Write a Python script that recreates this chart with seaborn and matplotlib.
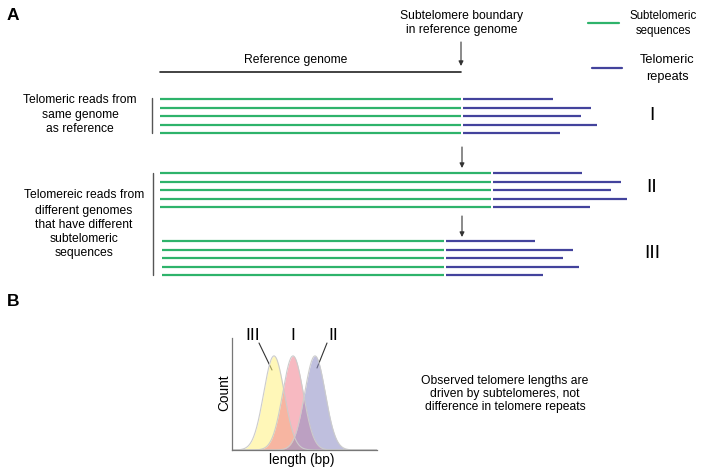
import numpy as np
import seaborn as sns
import matplotlib.pyplot as plt

sns.set_style('white')
plt.rcParams['font.family'] = ['Liberation Sans', 'DejaVu Sans']
plt.rcParams['text.color'] = 'black'

# read layout data (pixel units of the schematic)
read_start = [160, 160, 162]
subtelomere_ends = [461, 491, 444]
tel_ends_I = [553, 591, 581, 597, 560]
tel_ends_II = [582, 621, 611, 627, 590]
tel_ends_III = [535, 573, 563, 579, 543]
group_top = [99, 173, 241]
group_names = ['I', 'II', 'III']
group_label_y = [116, 188, 254]

# length distributions in panel B
dist_names = ['III', 'I', 'II']
dist_means = [274, 293, 315]
dist_sd = 10.3
dist_colors = ['#fff27e', '#f2808f', '#8c8cc4']

green = '#2eb36b'
blue = '#43439c'
fs = 8.7

fig = plt.figure(figsize=(7.05, 4.7), dpi=100)
ax = fig.add_axes([0, 0, 1, 1])
ax.set_xlim(0, 705)
ax.set_ylim(470, 0)
ax.axis('off')

# panel letters
ax.text(13, 16, 'A', fontsize=12.5, fontweight='bold', ha='center', va='center')
ax.text(13, 302, 'B', fontsize=12.5, fontweight='bold', ha='center', va='center')

# reference genome + boundary
ax.plot([160, 461], [72, 72], color='#222222', lw=1.2)
ax.text(296, 60, 'Reference genome', fontsize=fs, ha='center', va='center')
ax.text(462, 16, 'Subtelomere boundary', fontsize=fs, ha='center', va='center')
ax.text(462, 30, 'in reference genome', fontsize=fs, ha='center', va='center')

arrow_kw = dict(arrowstyle='-|>', color='#333333', lw=0.8, mutation_scale=7,
                shrinkA=0, shrinkB=0)
ax.annotate('', xy=(461, 66), xytext=(461, 42), arrowprops=arrow_kw)
ax.annotate('', xy=(462, 168), xytext=(462, 147), arrowprops=arrow_kw)
ax.annotate('', xy=(462, 237), xytext=(462, 216), arrowprops=arrow_kw)

# legend
ax.plot([588, 619], [23, 23], color=green, lw=1.6)
ax.text(663, 16, 'Subtelomeric', fontsize=8.3, ha='center', va='center')
ax.text(663, 31, 'sequences', fontsize=8.3, ha='center', va='center')
ax.plot([592, 622], [68, 68], color=blue, lw=1.6)
ax.text(667, 60, 'Telomeric', fontsize=9.2, ha='center', va='center')
ax.text(667, 77, 'repeats', fontsize=9.2, ha='center', va='center')

# reads
for start, sub_end, tel_ends, top, name, ly in zip(read_start, subtelomere_ends,
                                                 [tel_ends_I, tel_ends_II, tel_ends_III],
                                                 group_top, group_names, group_label_y):
    for k, tel_end in enumerate(tel_ends):
        y = top + k * 8.5
        ax.plot([start, sub_end], [y, y], color=green, lw=1.6, solid_capstyle='butt')
        ax.plot([sub_end + 1.5, tel_end], [y, y], color=blue, lw=1.6, solid_capstyle='butt')
    ax.text(652, ly, name, fontsize=14, ha='center', va='center')

# brackets and left labels
ax.plot([152, 152], [98, 133], color='#555555', lw=1.0)
ax.plot([153, 153], [173, 275], color='#555555', lw=1.0)
for y, line in zip([100, 115, 129], ['Telomeric reads from', 'same genome', 'as reference']):
    ax.text(80, y, line, fontsize=fs, ha='center', va='center')
for y, line in zip([195, 211, 225, 239, 253],
                   ['Telomereic reads from', 'different genomes', 'that have different',
                    'subtelomeric', 'sequences']):
    ax.text(84, y, line, fontsize=fs, ha='center', va='center')

# panel B distributions
bx = fig.add_axes([232 / 705, 20 / 470, 145 / 705, 112 / 470])
x = np.linspace(232, 377, 400)
for mean, col in zip(dist_means, dist_colors):
    y = np.exp(-0.5 * ((x - mean) / dist_sd) ** 2)
    bx.fill_between(x, 0, y, color=col, alpha=0.55, lw=0)
    sns.lineplot(x=x, y=y, ax=bx, color='#cccccc', lw=0.8)
bx.set_xlim(232, 377)
bx.set_ylim(0, 1.19)
bx.set_xticks([])
bx.set_yticks([])
for side in ['top', 'right']:
    bx.spines[side].set_visible(False)
for side in ['left', 'bottom']:
    bx.spines[side].set_color('#777777')
    bx.spines[side].set_linewidth(0.9)
bx.set_xlabel('')
bx.set_ylabel('')
bx.patch.set_alpha(0)

ax.text(224, 393, 'Count', fontsize=9.8, rotation=90, ha='center', va='center')
ax.text(302, 460, 'length (bp)', fontsize=9.8, ha='center', va='center')
for name, xl in zip(dist_names, [253, 293, 333]):
    ax.text(xl, 335, name, fontsize=12.5, ha='center', va='center')
ax.plot([259, 272], [343, 370], color='#333333', lw=0.8)
ax.plot([327, 317], [343, 368], color='#333333', lw=0.8)

for y, line in zip([381, 394, 407], ['Observed telomere lengths are',
                                     'driven by subtelomeres, not',
                                     'difference in telomere repeats']):
    ax.text(505, y, line, fontsize=fs, ha='center', va='center')

fig.savefig('out.png', dpi=100)
